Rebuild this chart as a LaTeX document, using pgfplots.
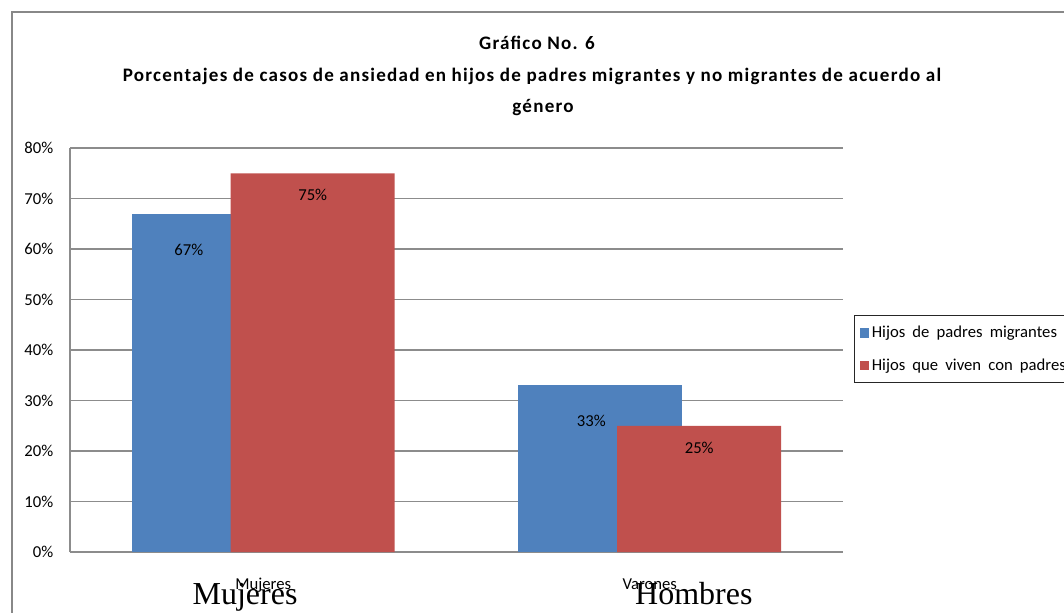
\documentclass[border=0pt]{standalone}
\usepackage{pgfplots}
\pgfplotsset{compat=1.18}
\usepackage{fontspec}
\setmainfont{Carlito}
\newfontfamily\titlefont[LetterSpace=6.5]{Carlito}
\newfontfamily\legfont[WordSpace=1.9]{Carlito}
\newfontfamily\bigserif{Liberation Serif}
\definecolor{xlblue}{HTML}{4F81BD}
\definecolor{xlred}{HTML}{C0504D}
\definecolor{gridgray}{HTML}{8C8C8C}
\definecolor{framegray}{HTML}{888888}
\begin{document}
\begin{tikzpicture}[x=0.75pt,y=0.75pt]
\draw[framegray, line width=1.1pt] (12,-30) -- (12,600) -- (1100,600);
\node[font=\titlefont\bfseries\fontsize{14.3}{17}\selectfont] at (537,569) {Gráfico No. 6};
\node[font=\titlefont\bfseries\fontsize{14.3}{17}\selectfont] at (532,536) {Porcentajes de casos de ansiedad en hijos de padres migrantes y no migrantes de acuerdo al};
\node[font=\titlefont\bfseries\fontsize{14.3}{17}\selectfont] at (543,504) {género};
\begin{axis}[
  at={(52.5pt,45pt)}, anchor=south west, scale only axis,
  width=579.75pt, height=303pt,
  xmin=-0.5, xmax=1.5, ymin=0, ymax=80,
  ytick={0,10,...,80},
  yticklabel={\pgfmathprintnumber{\tick}\%},
  /pgf/number format/assume math mode=true,
  ymajorgrids, grid style={gridgray, line width=0.8pt},
  xtick={0,1}, xticklabels={Mujeres,Varones},
  major tick length=0pt,
  axis x line*=bottom, axis y line*=left,
  axis line style={gridgray, line width=0.8pt, -},
  tick label style={font=\fontsize{12.5}{14}\selectfont},
  yticklabel style={xshift=-9pt},
  xticklabel style={anchor=base, yshift=-27.75pt},
  extra x ticks={-0.047,1.114},
  extra x tick labels={Mujeres,Hombres},
  extra x tick style={major tick length=0pt, xticklabel style={font=\bigserif\fontsize{24}{28}\selectfont, anchor=base, yshift=-11.25pt}},
  legend style={at={(1.0142,0.5866)}, anchor=north west, draw=black!85, line width=0.8pt,
    font=\legfont\fontsize{12.5}{14}\selectfont, row sep=10pt, inner xsep=4pt, inner ysep=6pt},
  legend cell align=left,
  legend image code/.code={\fill[#1,draw=none] (0pt,-3.5pt) rectangle (7pt,3.5pt);},
  nodes near coords={\pgfmathprintnumber{\pgfplotspointmeta}\%},
  every node near coord/.append style={font=\fontsize{12.5}{14}\selectfont, text=black, anchor=center},
]
\addplot[ybar, bar width=0.4243, bar shift=0pt, fill=xlblue, draw=none,
  every node near coord/.append style={yshift=-27pt, xshift=-18.75pt}]
  coordinates {(-0.128,67)};
\addplot[ybar, bar width=0.4243, bar shift=0pt, fill=xlblue, draw=none, forget plot,
  every node near coord/.append style={yshift=-27pt, xshift=-6.75pt}]
  coordinates {(0.872,33)};
\addplot[ybar, bar width=0.4243, bar shift=0pt, fill=xlred, draw=none,
  every node near coord/.append style={yshift=-16.5pt}]
  coordinates {(0.128,75) (1.128,25)};
\legend{Hijos de padres migrantes, Hijos que viven con padres}
\end{axis}
\pgfresetboundingbox
\useasboundingbox (0,0) rectangle (1064,612);
\end{tikzpicture}
\end{document}
